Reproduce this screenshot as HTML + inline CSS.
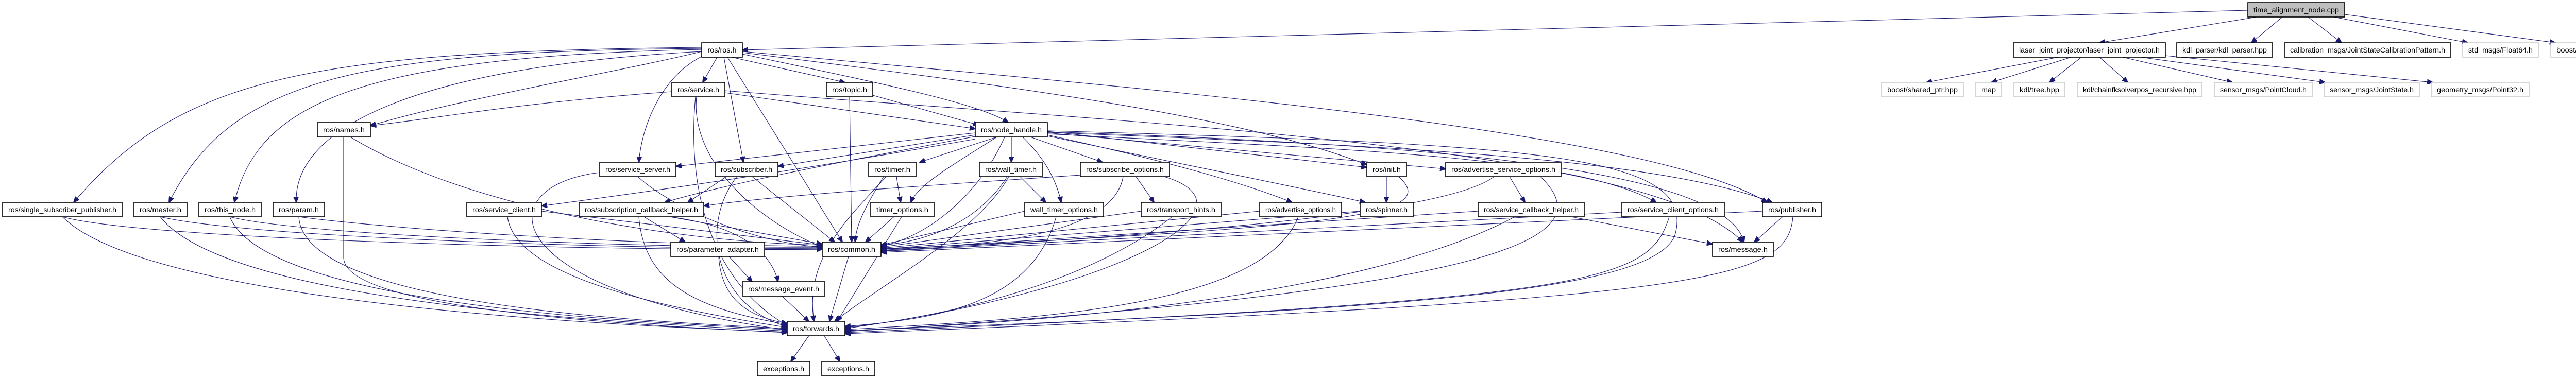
<!DOCTYPE html>
<html><head><meta charset="utf-8"><style>
html,body{margin:0;padding:0;background:#fff;}
svg{display:block;}
text{font-family:"Liberation Sans",sans-serif;font-size:14px;fill:#000;}
.e{fill:none;stroke:#191970;stroke-width:1.1;}
.n{fill:#fff;stroke:#000;stroke-width:1.6;}
.g{fill:#fff;stroke:#bfbfbf;stroke-width:1.3;}
.r{fill:#bfbfbf;stroke:#000;stroke-width:1.6;}
</style></head><body>
<svg width="5133" height="736" viewBox="0 0 5133 736" xmlns="http://www.w3.org/2000/svg">
<defs><marker id="a" markerWidth="12" markerHeight="10" refX="11" refY="5" orient="auto" markerUnits="userSpaceOnUse"><path d="M0,0 L12,5 L0,10 z" fill="#191970" stroke="#191970"/></marker></defs>
<g class="e" marker-end="url(#a)">
<path d="M4363 20 L1441 97"/>
<path d="M4380 33 L4075 83"/><path d="M4430 33 L4370 83"/><path d="M4480 33 L4545 83"/><path d="M4530 33 L4790 83"/><path d="M4551 28 L4960 83"/>
<path d="M3995 111 L3739 160"/><path d="M4020 111 L3865 160"/><path d="M4040 111 L3978 160"/><path d="M4075 111 L4130 160"/><path d="M4120 111 L4333 160"/><path d="M4155 111 L4513 160"/><path d="M4203 108 L4722 160"/>
<path d="M1392 111 L1364 160"/><path d="M1420 111 L1640 160"/><path d="M1441 105 C1700 160 1900 200 1957 238"/><path d="M1405 111 L1443 315"/><path d="M1412 111 L1635 470"/>
<path d="M1362 100 C1200 140 900 190 719 244"/><path d="M1362 92 C600 100 350 150 143 393"/><path d="M1362 94 C700 100 450 150 328 393"/><path d="M1362 96 C700 110 500 200 455 393"/><path d="M1362 100 C800 130 570 250 575 393"/><path d="M1365 108 C1280 150 1245 250 1240 315"/>
<path d="M1441 102 C1900 160 2400 220 2653 320"/><path d="M1441 100 C2200 170 3200 250 3430 393"/>
<path d="M1407 180 L1893 250"/><path d="M1304 178 C1000 200 850 230 719 244"/><path d="M1352 188 C1340 300 1450 420 1596 480"/><path d="M1350 188 C1330 400 1400 560 1528 632"/><path d="M1407 176 C2200 240 3200 280 3383 470"/>
<path d="M1649 188 L1653 470"/><path d="M1694 185 L1900 243"/>
<path d="M1893 258 L1312 323"/><path d="M1893 262 L1510 323"/><path d="M1935 266 L1785 315"/><path d="M1963 266 L1963 315"/><path d="M2000 266 L2140 315"/>
<path d="M1935 266 C1850 320 1780 360 1768 393"/><path d="M1985 266 C2030 310 2050 350 2060 393"/><path d="M1950 266 C1900 380 1800 460 1710 478"/><path d="M2033 262 C2250 310 2400 350 2508 393"/>
<path d="M2033 255 L2653 325"/><path d="M2033 258 L2806 328"/><path d="M2033 260 C2600 290 3050 300 3215 393"/><path d="M2033 257 C2600 280 3200 300 3440 393"/><path d="M2033 264 C2300 320 2550 370 2650 393"/>
<path d="M2033 256 C2800 280 3350 330 3385 470"/><path d="M1893 270 C1500 340 1200 380 1051 400"/><path d="M1893 265 C1600 320 1400 360 1290 393"/>
<path d="M2033 254 C3000 280 3300 300 3250 460 C3200 560 2800 600 1640 642"/>
<path d="M1238 343 C1300 400 1450 470 1596 480"/><path d="M1164 335 C950 360 950 560 1528 641"/>
<path d="M1460 343 L1620 470"/><path d="M1430 343 C1350 450 1400 600 1528 634"/><path d="M1410 343 L1335 393"/>
<path d="M1740 343 L1748 393"/><path d="M1715 343 C1680 400 1660 440 1660 470"/><path d="M1720 343 C1650 420 1560 500 1580 624"/>
<path d="M1980 343 L2030 393"/><path d="M1955 343 C1900 430 1800 470 1710 476"/><path d="M1958 343 C1900 450 1700 560 1620 624"/>
<path d="M2205 343 L2240 393"/><path d="M2180 343 C2160 460 1900 480 1710 482"/><path d="M2260 343 C2450 400 2200 560 1640 638"/><path d="M2097 340 C1800 360 1500 380 1366 400"/>
<path d="M2691 343 L2691 393"/><path d="M2715 343 C2800 420 2600 440 1710 484"/>
<path d="M2930 343 L2960 393"/><path d="M2900 343 C2800 420 2200 460 1710 487"/><path d="M2990 343 C3100 450 3000 560 1640 644"/>
<path d="M121 421 C300 470 1300 488 1596 484"/><path d="M121 421 C300 600 1300 636 1528 645"/>
<path d="M311 421 C500 465 1300 485 1596 482"/><path d="M311 421 C450 600 1300 630 1528 643"/>
<path d="M446 421 C600 460 1300 482 1596 480"/><path d="M446 421 C520 600 1300 628 1528 640"/>
<path d="M580 421 C800 450 1300 478 1596 478"/><path d="M580 421 C590 600 1300 626 1528 638"/>
<path d="M680 266 C900 400 1300 470 1596 476"/><path d="M667 266 L667 500 C667 600 1200 630 1528 646"/>
<path d="M1051 410 L1596 476"/><path d="M985 421 C1000 540 1300 600 1528 636"/>
<path d="M1250 421 L1330 470"/><path d="M1300 421 C1450 440 1500 500 1510 547"/><path d="M1300 421 L1596 474"/><path d="M1240 421 C1250 550 1350 600 1528 630"/>
<path d="M1735 421 L1680 470"/><path d="M1750 421 L1625 624"/>
<path d="M1989 410 L1710 476"/><path d="M2050 421 C2000 600 1800 620 1640 634"/>
<path d="M2215 410 L1710 480"/><path d="M2275 421 C2100 560 1800 620 1640 636"/>
<path d="M2445 410 L1710 482"/><path d="M2520 421 C2450 600 2000 620 1640 640"/>
<path d="M2640 410 L1710 484"/>
<path d="M2869 410 L1710 486"/><path d="M3050 421 L3324 474"/><path d="M2940 421 C2700 550 2200 620 1640 642"/>
<path d="M3148 412 L1710 488"/><path d="M3240 421 C3200 550 3100 580 1640 646"/>
<path d="M3460 421 L3405 470"/><path d="M3421 410 L1710 490"/><path d="M3480 421 C3470 550 3300 580 1640 648"/>
<path d="M1415 498 L1460 547"/><path d="M1395 498 C1400 580 1450 615 1528 628"/>
<path d="M1647 498 L1610 624"/><path d="M1518 575 L1570 624"/>
<path d="M1570 652 L1535 702"/><path d="M1600 652 L1630 702"/>
</g>
<g>
<rect class="r" x="4363" y="5" width="188" height="28"/><text x="4457" y="24" text-anchor="middle" textLength="166" lengthAdjust="spacingAndGlyphs">time_alignment_node.cpp</text>
<rect class="n" x="3908" y="83" width="295" height="28"/><text x="4055.5" y="102" text-anchor="middle" textLength="273" lengthAdjust="spacingAndGlyphs">laser_joint_projector/laser_joint_projector.h</text>
<rect class="n" x="4225" y="83" width="186" height="28"/><text x="4318" y="102" text-anchor="middle" textLength="164" lengthAdjust="spacingAndGlyphs">kdl_parser/kdl_parser.hpp</text>
<rect class="n" x="4434" y="83" width="323" height="28"/><text x="4595.5" y="102" text-anchor="middle" textLength="301" lengthAdjust="spacingAndGlyphs">calibration_msgs/JointStateCalibrationPattern.h</text>
<rect class="g" x="4780" y="83" width="147" height="28"/><text x="4853.5" y="102" text-anchor="middle" textLength="125" lengthAdjust="spacingAndGlyphs">std_msgs/Float64.h</text>
<rect class="g" x="4951" y="83" width="178" height="28"/><text x="5040" y="102" text-anchor="middle" textLength="156" lengthAdjust="spacingAndGlyphs">boost/thread/mutex.hpp</text>
<rect class="n" x="1362" y="83" width="79" height="28"/><text x="1401.5" y="102" text-anchor="middle" textLength="56" lengthAdjust="spacingAndGlyphs">ros/ros.h</text>
<rect class="g" x="3652" y="160" width="159" height="28"/><text x="3731.5" y="179" text-anchor="middle" textLength="137" lengthAdjust="spacingAndGlyphs">boost/shared_ptr.hpp</text>
<rect class="g" x="3835" y="160" width="50" height="28"/><text x="3860" y="179" text-anchor="middle" textLength="28" lengthAdjust="spacingAndGlyphs">map</text>
<rect class="g" x="3909" y="160" width="99" height="28"/><text x="3958.5" y="179" text-anchor="middle" textLength="77" lengthAdjust="spacingAndGlyphs">kdl/tree.hpp</text>
<rect class="g" x="4032" y="160" width="242" height="28"/><text x="4153" y="179" text-anchor="middle" textLength="220" lengthAdjust="spacingAndGlyphs">kdl/chainfksolverpos_recursive.hpp</text>
<rect class="g" x="4298" y="160" width="190" height="28"/><text x="4393" y="179" text-anchor="middle" textLength="168" lengthAdjust="spacingAndGlyphs">sensor_msgs/PointCloud.h</text>
<rect class="g" x="4511" y="160" width="185" height="28"/><text x="4603.5" y="179" text-anchor="middle" textLength="163" lengthAdjust="spacingAndGlyphs">sensor_msgs/JointState.h</text>
<rect class="g" x="4719" y="160" width="190" height="28"/><text x="4814" y="179" text-anchor="middle" textLength="168" lengthAdjust="spacingAndGlyphs">geometry_msgs/Point32.h</text>
<rect class="n" x="1304" y="160" width="103" height="28"/><text x="1355.5" y="179" text-anchor="middle" textLength="81" lengthAdjust="spacingAndGlyphs">ros/service.h</text>
<rect class="n" x="1604" y="160" width="90" height="28"/><text x="1649" y="179" text-anchor="middle" textLength="68" lengthAdjust="spacingAndGlyphs">ros/topic.h</text>
<rect class="n" x="616" y="238" width="103" height="28"/><text x="667.5" y="257" text-anchor="middle" textLength="81" lengthAdjust="spacingAndGlyphs">ros/names.h</text>
<rect class="n" x="1893" y="238" width="140" height="28"/><text x="1963" y="257" text-anchor="middle" textLength="118" lengthAdjust="spacingAndGlyphs">ros/node_handle.h</text>
<rect class="n" x="1164" y="315" width="148" height="28"/><text x="1238" y="334" text-anchor="middle" textLength="126" lengthAdjust="spacingAndGlyphs">ros/service_server.h</text>
<rect class="n" x="1388" y="315" width="122" height="28"/><text x="1449" y="334" text-anchor="middle" textLength="100" lengthAdjust="spacingAndGlyphs">ros/subscriber.h</text>
<rect class="n" x="1686" y="315" width="92" height="28"/><text x="1732" y="334" text-anchor="middle" textLength="70" lengthAdjust="spacingAndGlyphs">ros/timer.h</text>
<rect class="n" x="1901" y="315" width="122" height="28"/><text x="1962" y="334" text-anchor="middle" textLength="100" lengthAdjust="spacingAndGlyphs">ros/wall_timer.h</text>
<rect class="n" x="2097" y="315" width="173" height="28"/><text x="2183.5" y="334" text-anchor="middle" textLength="151" lengthAdjust="spacingAndGlyphs">ros/subscribe_options.h</text>
<rect class="n" x="2653" y="315" width="77" height="28"/><text x="2691.5" y="334" text-anchor="middle" textLength="55" lengthAdjust="spacingAndGlyphs">ros/init.h</text>
<rect class="n" x="2806" y="315" width="224" height="28"/><text x="2918" y="334" text-anchor="middle" textLength="202" lengthAdjust="spacingAndGlyphs">ros/advertise_service_options.h</text>
<rect class="n" x="5" y="393" width="232" height="28"/><text x="121" y="412" text-anchor="middle" textLength="210" lengthAdjust="spacingAndGlyphs">ros/single_subscriber_publisher.h</text>
<rect class="n" x="260" y="393" width="103" height="28"/><text x="311.5" y="412" text-anchor="middle" textLength="81" lengthAdjust="spacingAndGlyphs">ros/master.h</text>
<rect class="n" x="386" y="393" width="121" height="28"/><text x="446.5" y="412" text-anchor="middle" textLength="99" lengthAdjust="spacingAndGlyphs">ros/this_node.h</text>
<rect class="n" x="530" y="393" width="100" height="28"/><text x="580" y="412" text-anchor="middle" textLength="78" lengthAdjust="spacingAndGlyphs">ros/param.h</text>
<rect class="n" x="906" y="393" width="145" height="28"/><text x="978.5" y="412" text-anchor="middle" textLength="123" lengthAdjust="spacingAndGlyphs">ros/service_client.h</text>
<rect class="n" x="1124" y="393" width="242" height="28"/><text x="1245" y="412" text-anchor="middle" textLength="220" lengthAdjust="spacingAndGlyphs">ros/subscription_callback_helper.h</text>
<rect class="n" x="1690" y="393" width="123" height="28"/><text x="1751.5" y="412" text-anchor="middle" textLength="101" lengthAdjust="spacingAndGlyphs">timer_options.h</text>
<rect class="n" x="1989" y="393" width="153" height="28"/><text x="2065.5" y="412" text-anchor="middle" textLength="131" lengthAdjust="spacingAndGlyphs">wall_timer_options.h</text>
<rect class="n" x="2215" y="393" width="155" height="28"/><text x="2292.5" y="412" text-anchor="middle" textLength="133" lengthAdjust="spacingAndGlyphs">ros/transport_hints.h</text>
<rect class="n" x="2445" y="393" width="159" height="28"/><text x="2524.5" y="412" text-anchor="middle" textLength="137" lengthAdjust="spacingAndGlyphs">ros/advertise_options.h</text>
<rect class="n" x="2640" y="393" width="103" height="28"/><text x="2691.5" y="412" text-anchor="middle" textLength="81" lengthAdjust="spacingAndGlyphs">ros/spinner.h</text>
<rect class="n" x="2869" y="393" width="206" height="28"/><text x="2972" y="412" text-anchor="middle" textLength="184" lengthAdjust="spacingAndGlyphs">ros/service_callback_helper.h</text>
<rect class="n" x="3148" y="393" width="199" height="28"/><text x="3247.5" y="412" text-anchor="middle" textLength="177" lengthAdjust="spacingAndGlyphs">ros/service_client_options.h</text>
<rect class="n" x="3421" y="393" width="115" height="28"/><text x="3478.5" y="412" text-anchor="middle" textLength="93" lengthAdjust="spacingAndGlyphs">ros/publisher.h</text>
<rect class="n" x="1302" y="470" width="182" height="28"/><text x="1393" y="489" text-anchor="middle" textLength="160" lengthAdjust="spacingAndGlyphs">ros/parameter_adapter.h</text>
<rect class="n" x="1596" y="470" width="114" height="28"/><text x="1653" y="489" text-anchor="middle" textLength="92" lengthAdjust="spacingAndGlyphs">ros/common.h</text>
<rect class="n" x="3324" y="470" width="118" height="28"/><text x="3383" y="489" text-anchor="middle" textLength="96" lengthAdjust="spacingAndGlyphs">ros/message.h</text>
<rect class="n" x="1441" y="547" width="160" height="28"/><text x="1521" y="566" text-anchor="middle" textLength="138" lengthAdjust="spacingAndGlyphs">ros/message_event.h</text>
<rect class="n" x="1528" y="624" width="112" height="28"/><text x="1584" y="643" text-anchor="middle" textLength="90" lengthAdjust="spacingAndGlyphs">ros/forwards.h</text>
<rect class="n" x="1470" y="702" width="102" height="28"/><text x="1521" y="721" text-anchor="middle" textLength="80" lengthAdjust="spacingAndGlyphs">exceptions.h</text>
<rect class="n" x="1595" y="702" width="103" height="28"/><text x="1646.5" y="721" text-anchor="middle" textLength="81" lengthAdjust="spacingAndGlyphs">exceptions.h</text>
</g>
</svg>
</body></html>
